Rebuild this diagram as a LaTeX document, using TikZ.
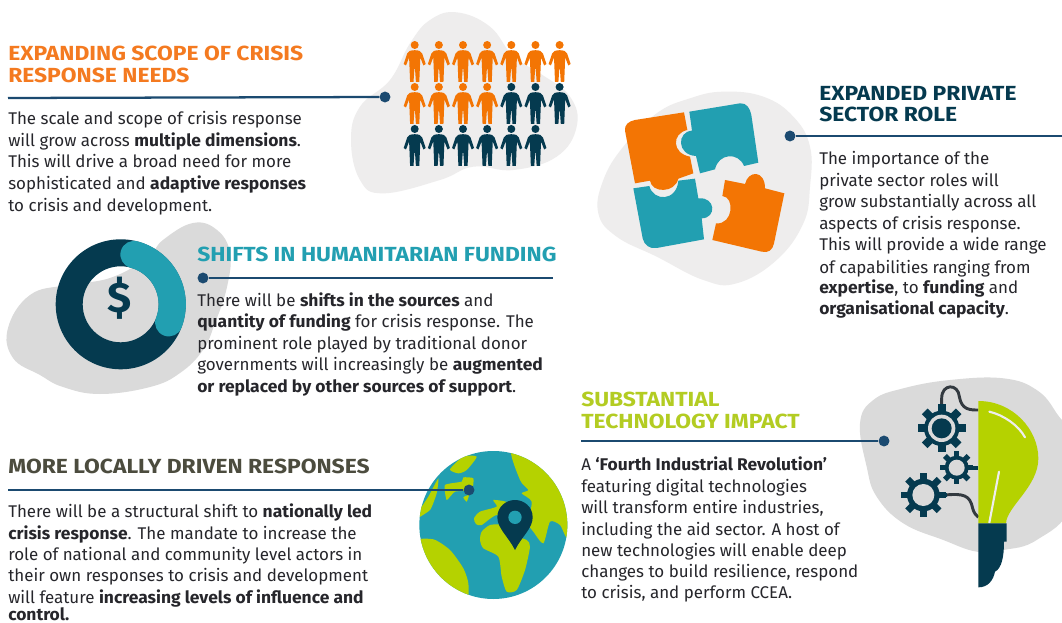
\documentclass[tikz,border=0pt]{standalone}
\usepackage{fontspec}
\setmainfont{Fira Sans}[BoldFeatures={FakeStretch=1.03}]
\newfontfamily\headf{Fira Sans}[FakeStretch=1.12]
\definecolor{orng}{HTML}{F37504}
\definecolor{orngh}{HTML}{F47A20}
\definecolor{tealc}{HTML}{229FB1}
\definecolor{navy}{HTML}{053A4F}
\definecolor{linec}{HTML}{1B4A70}
\definecolor{lime}{HTML}{B5D200}
\definecolor{limeh}{HTML}{B3CC22}
\definecolor{blobl}{HTML}{EEEDED}
\definecolor{blobd}{HTML}{DADADA}
\definecolor{txt}{HTML}{26262B}
\definecolor{oliv}{HTML}{4C4C3E}
\definecolor{wiregr}{HTML}{333A40}
\tikzset{
 body/.style={anchor=base west,inner sep=0pt,text=txt,font=\fontsize{12.7}{15}\selectfont},
 head/.style={anchor=base west,inner sep=0pt,font=\fontsize{15.3}{18}\selectfont\headf\bfseries},
 dotn/.style={circle,fill=linec,inner sep=0pt,minimum size=8.2pt},
 conn/.style={draw=linec,line width=1.7pt},
 person/.pic={
  \fill (0,0) circle[radius=4];
  \fill (0,5.2) .. controls (2,5.2) and (3.5,5.5) .. (5,6) .. controls (6.5,6.5) and (7,7.2) .. (7.5,8.5)
   -- (11,19) -- (8.7,20.5) -- (5.6,12.5) -- (5.2,22) -- (4.6,37) -- (1.2,37) -- (0.3,24) -- (-0.3,24) -- (-1.2,37) -- (-4.6,37) -- (-5.2,22) -- (-5.6,12.5) -- (-8.7,20.5) -- (-11,19) -- (-7.5,8.5)
   .. controls (-7,7.2) and (-6.5,6.5) .. (-5,6) .. controls (-3.5,5.5) and (-2,5.2) .. (0,5.2) -- cycle;
 }
}
\newcommand{\gearshape}[6]{% cx cy router rbody rinner halfwidth
 \foreach \ga in {0,45,90,135}{
  \fill[navy,rotate around={\ga:(#1,#2)}] ({#1-#6},{#2-#3}) rectangle ({#1+#6},{#2+#3});
 }
 \fill[navy] (#1,#2) circle[radius=#4];
 \fill[blobd] (#1,#2) circle[radius=#5];
}
\begin{document}
\begin{tikzpicture}[x=0.75pt,y=-0.75pt]
\useasboundingbox (0,0) rectangle (1062,623);
\clip (0,0) rectangle (1062,623);
\fill[white] (0,0) rectangle (1062,623);
% blobs
\begin{scope}[shift={(340,0)},scale=1/3]
\fill[blobl] plot[smooth cycle,tension=0.7] coordinates {(350,37)(450,80)(520,170)(600,220)(690,290)(710,380)(650,470)(520,510)(400,500)(300,540)(130,580)(60,540)(33,420)(60,320)(150,240)(210,130)(270,60)};
\end{scope}
\fill[blobd] plot[smooth cycle,tension=0.7] coordinates {(193,223)(217,230)(230,253)(227,287)(215,323)(203,350)(180,373)(150,387)(100,394)(63,387)(40,375)(13,358)(8,328)(30,295)(67,285)(110,278)(147,258)(163,240)};
\begin{scope}[shift={(590,80)},scale=1/3]
\fill[blobl] plot[smooth cycle,tension=0.7] coordinates {(400,35)(520,50)(610,110)(660,200)(660,320)(640,430)(560,540)(440,610)(340,600)(200,530)(80,470)(25,400)(40,300)(100,200)(200,100)(300,55)};
\end{scope}
\begin{scope}[shift={(850,380)},scale=1/3]
\fill[blobd] plot[smooth cycle,tension=0.7] coordinates {(30,130)(70,60)(160,25)(300,0)(460,-5)(560,30)(620,100)(660,180)(660,380)(560,480)(460,510)(380,515)(280,480)(160,430)(80,350)(50,260)};
\end{scope}
% people
\foreach \i in {0,...,6}{\pic[fill=orng] at ({414.7+24.15*\i},45) {person};}
\foreach \i in {0,...,3}{\pic[fill=orng] at ({414.7+24.15*\i},87) {person};}
\foreach \i in {4,...,6}{\pic[fill=navy] at ({414.7+24.15*\i},87) {person};}
\foreach \i in {0,...,5}{\pic[fill=navy] at ({414.7+24.15*\i},129) {person};}
% donut
\fill[navy,even odd rule] (120.7,304.3) circle[radius=65] (120.7,304.3) circle[radius=38];
\draw[tealc,line width=20.5pt,line cap=round] plot[domain=-21:75,samples=40] ({120.7+51.5*cos(\x)},{304.3-51.5*sin(\x)});
\node[anchor=center,inner sep=0pt,text=navy,font=\fontsize{32}{33}\selectfont\bfseries] (dollar) at (120,298) {\$};
% puzzle
\begin{scope}[shift={(590,80)},scale=1/3]
\fill[orng] (282,97) -- (135,120) .. controls (115,124) and (103,135) .. (105,152) -- (135,310) -- (180,302) .. controls (185,340) and (255,340) .. (265,296) -- (310,280) -- (300,230) .. controls (245,220) and (245,160) .. (292,150) -- cycle;
\fill[tealc] (298,95) -- (450,70) .. controls (470,68) and (480,85) .. (484,105) -- (505,248) -- (462,258) .. controls (445,215) and (385,220) .. (375,268) -- (330,280) -- (318,228) .. controls (260,225) and (260,155) .. (306,152) -- cycle;
\fill[tealc] (130,325) -- (178,318) .. controls (190,365) and (260,365) .. (265,302) -- (315,296) -- (325,355) .. controls (378,350) and (380,415) .. (335,415) -- (342,478) -- (200,504) .. controls (180,508) and (162,495) .. (158,475) -- cycle;
\fill[orng] (405,300) -- (465,312) .. controls (475,270) and (525,270) .. (525,325) -- (583,340) -- (552,490) .. controls (548,510) and (535,520) .. (515,515) -- (367,480) -- (378,430) .. controls (430,435) and (435,350) .. (397,348) -- cycle;
\end{scope}
% globe
\begin{scope}[shift={(400,460)},scale=1/3]
\fill[tealc] (280,195) circle[radius=222];
\begin{scope}
\clip (280,195) circle[radius=222];
\fill[lime] plot[smooth cycle,tension=0.4] coordinates {(335,-40)(360,60)(385,90)(365,100)(395,125)(385,190)(400,215)(430,250)(450,185)(480,195)(510,240)(560,100)(480,-40)};
\fill[lime] plot[smooth cycle,tension=0.4] coordinates {(245,215)(270,195)(310,195)(340,225)(380,240)(390,260)(375,330)(350,390)(320,395)(305,350)(295,290)(250,265)(240,240)};
\fill[lime] plot[smooth cycle,tension=0.4] coordinates {(222,175)(240,155)(290,140)(280,120)(330,130)(350,180)(290,165)(245,195)(228,192)};
\fill[lime] plot[smooth cycle,tension=0.3] coordinates {(135,75)(185,65)(190,52)(220,55)(215,90)(165,95)(140,120)};
\fill[lime] plot[smooth cycle,tension=0.3] coordinates {(190,112)(207,105)(200,125)};
\fill[lime] plot[smooth cycle,tension=0.4] coordinates {(150,28)(190,-10)(230,-10)(200,30)(175,40)};
\fill[lime] plot[smooth cycle,tension=0.3] coordinates {(40,180)(85,110)(115,55)(110,100)(90,150)};
\fill[lime] plot[smooth cycle,tension=0.4] coordinates {(40,245)(100,238)(150,270)(190,325)(205,370)(200,420)(130,420)(40,340)};
\end{scope}
\fill[navy] (345,270) .. controls (325,230) and (292,205) .. (292,172) .. controls (292,140) and (318,120) .. (345,120) .. controls (372,120) and (398,140) .. (398,172) .. controls (398,205) and (365,230) .. (345,270) -- cycle;
\fill[tealc] (345,172) circle[radius=20];
\end{scope}
% bulb
\begin{scope}[shift={(850,380)},scale=1/3]
\draw[wiregr,line width=2.2pt] (275,75) -- (275,55) .. controls (275,10) and (325,10) .. (328,50) .. controls (335,90) and (360,90) .. (385,90);
\draw[wiregr,line width=2.2pt] (285,345) .. controls (340,340) and (360,345) .. (368,385) .. controls (372,400) and (378,405) .. (385,412);
\gearshape{275}{145}{72}{53}{41}{12}
\fill[navy] (275,145) circle[radius=30];
\gearshape{320}{263}{50}{36}{24}{8}
\gearshape{220}{345}{67}{49}{33}{10}
\fill[navy] (355,258) rectangle (385,269);
\fill[navy] (270,340) rectangle (292,352);
\fill[lime] (385,63) .. controls (490,63) and (565,150) .. (565,235) .. controls (565,320) and (470,380) .. (468,430) -- (385,430) -- cycle;
\draw[blobl,line width=1.6pt,line cap=round] (418,95) .. controls (460,105) and (505,135) .. (525,172);
\draw[blobl,line width=1.6pt,line cap=round] (447,275) -- (418,428);
\fill[navy] (385,430) -- (470,430) -- (470,485) -- (462,485) .. controls (462,530) and (455,565) .. (435,575) .. controls (430,600) and (415,622) .. (385,622) -- cycle;
\end{scope}
% headings
\node[head,text=orngh] (h1a) at (8,61) {EXPANDING SCOPE OF CRISIS};
\node[head,text=orngh] (h1b) at (8,83) {RESPONSE NEEDS};
\node[head,text=tealc] (h2) at (197,262) {SHIFTS IN HUMANITARIAN FUNDING};
\node[head,text=oliv] (h3) at (8,473) {MORE LOCALLY DRIVEN RESPONSES};
\node[head,text=navy] (h4a) at (819,101) {EXPANDED PRIVATE};
\node[head,text=navy] (h4b) at (819,122) {SECTOR ROLE};
\node[head,text=limeh] (h5a) at (581,406) {SUBSTANTIAL};
\node[head,text=limeh] (h5b) at (581,428) {TECHNOLOGY IMPACT};
% connectors
\node[dotn] (d1) at (385,97) {};
\coordinate (c1) at (8,98);
\draw[conn] (c1) -- (d1);
\node[dotn] (d2) at (203,278) {};
\coordinate (c2) at (553,278);
\draw[conn] (d2) -- (c2);
\node[dotn] (d3) at (469,490) {};
\coordinate (c3) at (8,490);
\draw[conn] (c3) -- (d3);
\node[dotn] (d4) at (790,136) {};
\coordinate (c4) at (1062,136);
\draw[conn] (d4) -- (c4);
\node[dotn] (d5) at (884,441) {};
\coordinate (c5) at (581,441);
\draw[conn] (c5) -- (d5);
% body 1
\node[body] (a1) at (8,125) {The scale and scope of crisis response};
\node[body] (a2) at (8,147) {will grow across \textbf{multiple dimensions}.};
\node[body] (a3) at (8,168) {This will drive a broad need for more};
\node[body] (a4) at (8,190) {sophisticated and \textbf{adaptive responses}};
\node[body] (a5) at (8,212) {to crisis and development.};
% body 2
\node[body] (b1) at (197,306) {There will be \textbf{shifts in the sources} and};
\node[body] (b2) at (197,327) {\textbf{quantity of funding} for crisis response. The};
\node[body] (b3) at (197,349) {prominent role played by traditional donor};
\node[body] (b4) at (197,370) {governments will increasingly be \textbf{augmented}};
\node[body] (b5) at (197,392) {\textbf{or replaced by other sources of support}.};
% body 3
\node[body] (e1) at (8,517) {There will be a structural shift to \textbf{nationally led}};
\node[body] (e2) at (8,539) {\textbf{crisis response}. The mandate to increase the};
\node[body] (e3) at (8,560) {role of national and community level actors in};
\node[body] (e4) at (8,581) {their own responses to crisis and development};
\node[body] (e5) at (8,603) {will feature \textbf{increasing levels of influence and}};
\node[body] (e6) at (8,620) {\textbf{control.}};
% body 4
\node[body] (p1) at (819,165) {The importance of the};
\node[body] (p2) at (819,187) {private sector roles will};
\node[body] (p3) at (819,208) {grow substantially across all};
\node[body] (p4) at (819,230) {aspects of crisis response.};
\node[body] (p5) at (819,251) {This will provide a wide range};
\node[body] (p6) at (819,273) {of capabilities ranging from};
\node[body] (p7) at (819,294) {\textbf{expertise}, to \textbf{funding} and};
\node[body] (p8) at (819,315) {\textbf{organisational capacity}.};
% body 5
\node[body] (t1) at (581,470) {A \textbf{‘Fourth Industrial Revolution’}};
\node[body] (t2) at (581,492) {featuring digital technologies};
\node[body] (t3) at (581,513) {will transform entire industries,};
\node[body] (t4) at (581,535) {including the aid sector. A host of};
\node[body] (t5) at (581,556) {new technologies will enable deep};
\node[body] (t6) at (581,577) {changes to build resilience, respond};
\node[body] (t7) at (581,598) {to crisis, and perform CCEA.};
\end{tikzpicture}
\end{document}
